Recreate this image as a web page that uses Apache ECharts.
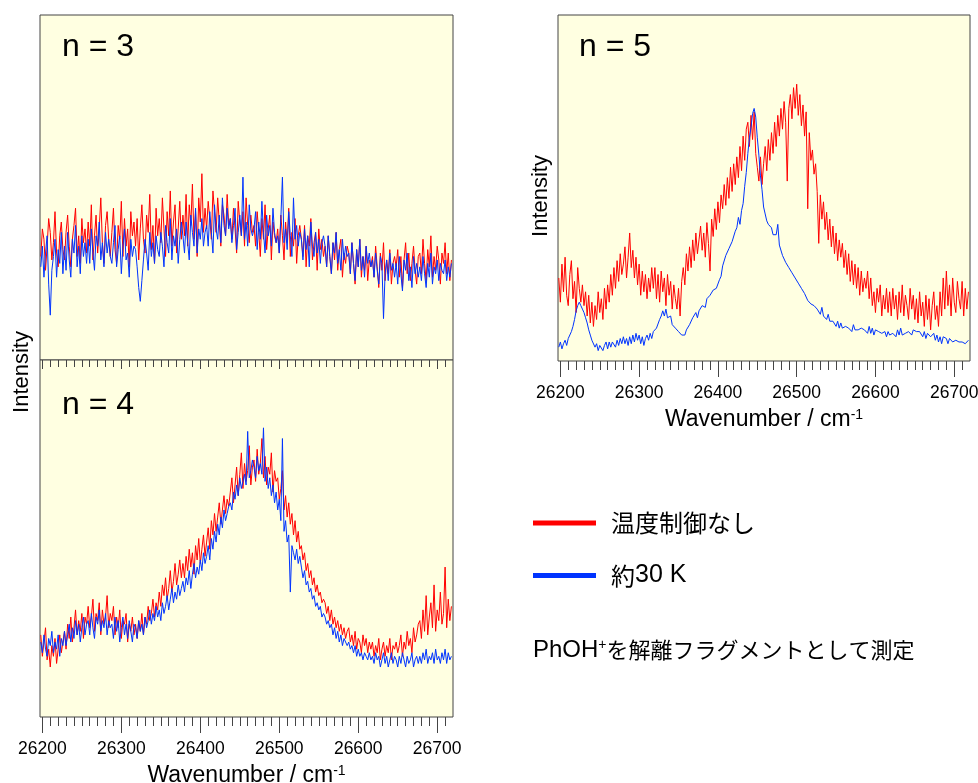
<!DOCTYPE html>
<html><head><meta charset="utf-8">
<script src="https://cdn.jsdelivr.net/npm/echarts@6/dist/echarts.min.js"></script>
<style>html,body{margin:0;padding:0;background:#fff}#c{width:978px;height:783px}</style>
</head><body><div id="c"></div>
<script>
// sampling grid of the spectra (cm-1)
const waveStart = 26198, waveStep = 2;
const xMin = 26197, xMax = 26720;
const majorTicks = [26200, 26300, 26400, 26500, 26600, 26700];
const minorTicks = [26200,26210,26220,26230,26240,26250,26260,26270,26280,26290,
  26300,26310,26320,26330,26340,26350,26360,26370,26380,26390,
  26400,26410,26420,26430,26440,26450,26460,26470,26480,26490,
  26500,26510,26520,26530,26540,26550,26560,26570,26580,26590,
  26600,26610,26620,26630,26640,26650,26660,26670,26680,26690,
  26700,26710];
const seriesNames = ['温度制御なし', '約30 K'];
const panelLabels = ['n = 3', 'n = 4', 'n = 5'];

const n3Red = [30,38,35,26,33,41,37,29,34,43,31,27,36,40,32,
29,37,42,33,27,35,39,44,30,36,28,41,34,38,31,
40,33,45,29,36,42,31,38,47,34,28,39,43,35,30,
37,44,32,28,39,35,46,30,41,33,38,27,43,36,40,
33,41,29,38,45,35,31,42,37,48,32,39,28,44,36,
41,34,47,38,30,43,36,49,33,40,45,31,38,46,35,
42,36,48,33,45,39,51,35,43,30,47,40,54,37,44,
38,46,41,35,49,43,37,47,40,33,45,42,36,48,39,
41,35,44,38,31,46,40,36,43,33,47,39,34,42,37,
39,33,43,37,30,41,35,45,32,38,42,29,40,36,34,
38,31,42,36,29,40,34,44,30,37,33,41,28,36,39,
35,30,39,27,36,33,41,29,34,37,26,38,32,35,30,
33,27,36,30,25,34,29,37,26,32,35,24,31,28,33,
31,25,34,28,22,32,27,35,24,30,26,33,23,29,27,
30,24,33,27,21,31,26,34,23,29,25,32,22,28,30,
27,32,24,30,21,29,34,25,31,23,28,33,26,22,30,
31,25,35,28,23,32,27,36,24,30,26,33,29,22,31,
28,34,25,31,23,29];
const n3Blue = [27,33,24,31,36,22,13,26,30,35,24,32,28,37,25,
33,26,37,29,24,35,31,39,27,33,25,36,30,34,28,
35,28,38,31,26,36,33,40,29,34,27,37,31,35,30,
28,34,39,27,32,36,25,33,38,29,31,24,35,30,33,
32,27,21,17,23,29,35,31,26,37,30,34,28,36,32,
30,37,33,27,39,34,31,41,29,36,33,38,28,35,40,
36,31,40,34,29,42,37,33,44,31,38,35,41,33,37,
39,33,43,37,31,45,38,35,42,34,47,39,36,44,38,
41,34,39,44,32,37,42,36,53,35,40,33,45,38,36,
38,43,32,40,35,46,37,31,42,36,39,33,44,37,34,
36,31,41,53,34,38,32,43,36,30,47,35,39,33,37,
35,29,38,32,36,27,40,33,30,37,31,35,28,34,36,
33,27,36,30,25,34,31,37,28,32,26,35,29,33,30,
31,25,34,28,23,32,27,35,26,30,24,33,28,31,27,
29,24,31,26,22,30,28,12,25,29,23,31,26,28,24,
28,22,30,25,20,29,26,31,23,27,21,30,25,28,24,
27,23,30,25,21,28,24,31,22,27,25,29,23,28,26,
25,29,23,27,24,28];
const n4Red = [23,17,21,25,16,19,14,20,17,22,15,19,23,18,21,
24,19,26,22,28,21,25,30,23,27,24,29,22,28,26,
31,25,28,33,24,29,27,32,23,30,26,28,34,25,29,
27,31,23,28,25,30,22,27,26,29,21,26,24,28,23,
26,22,27,24,29,23,28,26,31,27,29,33,28,32,30,
35,31,37,34,39,33,36,41,35,38,43,37,40,44,39,
43,39,45,41,47,42,46,40,48,44,50,43,47,51,45,
49,53,47,55,51,57,52,56,60,54,58,62,57,61,59,
63,67,60,65,70,62,68,74,64,71,66,69,76,65,70,
72,66,75,68,71,78,67,73,65,70,68,74,63,69,66,
67,61,64,69,58,62,56,60,54,57,51,55,49,52,47,
48,44,46,41,43,39,41,37,39,35,37,34,35,32,33,
32,29,31,27,30,26,28,25,27,24,26,23,25,22,24,
25,21,23,20,24,19,22,21,18,23,20,22,18,21,19,
21,17,20,18,22,16,19,21,17,20,18,22,16,20,19,
21,18,20,23,17,21,19,24,20,22,18,25,21,23,26,
27,22,30,24,34,23,28,32,25,37,24,30,27,35,26,
29,42,25,33,27,31];
const n4Blue = [21,18,23,19,17,22,20,24,18,21,19,23,17,22,20,
24,20,23,26,21,25,22,27,23,26,21,25,28,23,26,
27,23,29,25,22,28,26,30,24,27,25,29,23,27,25,
26,22,28,24,27,21,25,28,23,26,22,27,24,21,26,
25,22,27,24,26,23,28,25,27,30,26,29,27,31,28,
30,27,32,29,31,34,30,33,36,32,35,33,37,34,36,
38,35,39,37,41,36,40,43,39,42,40,44,41,46,43,
45,48,44,50,47,52,49,54,51,56,53,58,55,57,59,
60,58,63,61,65,62,67,64,66,68,65,80,67,69,72,
70,67,73,69,71,68,81,66,70,64,67,62,65,60,63,
58,61,55,78,52,55,49,51,35,48,46,44,47,43,45,
42,39,41,37,38,35,36,33,34,31,32,30,31,28,29,
28,26,27,25,26,23,25,22,24,21,23,20,22,21,20,
21,19,20,18,20,17,19,17,18,16,18,17,16,18,16,
17,15,18,16,17,14,16,18,15,17,14,16,18,15,17,
16,14,17,15,18,16,14,17,15,16,18,14,16,17,15,
17,15,18,16,19,15,17,16,18,15,19,16,17,15,18,
16,19,15,18,16,17];
const n5Red = [24,17,28,20,30,19,16,25,29,18,23,14,27,21,17,
22,16,20,13,19,11,17,10,16,12,20,14,18,12,21,
15,22,17,25,19,27,21,29,23,31,25,28,33,24,30,
37,27,32,24,30,22,28,19,26,20,25,18,24,20,27,
21,27,18,25,17,26,20,24,16,25,19,23,15,22,18,
15,21,13,23,27,22,31,26,33,27,35,29,37,31,35,
39,32,37,30,40,34,26,41,36,44,38,46,40,48,44,
51,45,53,47,56,49,57,51,59,53,62,55,65,58,67,
69,62,71,64,72,60,56,52,59,51,57,62,55,64,58,
66,60,69,62,71,65,73,67,75,69,52,73,77,70,79,
73,80,71,77,68,74,65,72,44,66,58,61,54,57,49,
34,48,41,46,38,43,35,41,33,39,31,37,29,35,30,
34,27,32,25,31,23,29,22,28,21,27,19,26,20,24,
21,26,18,24,16,20,14,21,17,22,13,19,15,21,14,
20,13,21,15,19,12,20,14,22,13,19,16,12,21,15,
19,12,18,11,20,13,17,10,19,12,18,9,16,20,12,
16,10,20,13,24,15,26,16,22,13,24,17,14,23,18,
15,23,13,21,15,20];
const n5Blue = [4,5.5,3.5,5,6,4.5,6.5,7,8.5,10,12,14.5,16,17,16,
15,14,12.5,11,9,7.5,6,5.5,4,5,3,4.5,4,3,4.5,
5.5,3.5,5.5,4,5.5,6,4,6,4.5,6.5,5,7,5,6.5,4.5,
7,5,7.5,5.5,8,6,7.5,5,7,4.5,6.5,7.5,6,8,6.5,
8.5,8,9.5,10,12,13,14.5,13,15,12.5,12.5,13,10.5,11,9.5,
10,8.5,8.5,7.5,8,7.5,9,9.5,10.5,11,12.5,12,14,12.5,14.5,
15,16,16.5,15.5,18,17.5,19,19,20.5,20.5,21,21.5,23.5,24.5,27.5,
28,30.5,30.5,32.5,32.5,34.5,34.5,37.5,38.5,41.5,39.5,43.5,45.5,50.5,54.5,
60,64.5,67.5,71.5,73,70.5,64.5,59.5,53.5,49.5,44.5,42.5,40.5,39.5,39.5,
38.5,36.5,36.5,36.5,39.5,33.5,33.5,30.5,30.5,28.5,28.5,27,27.5,25.5,25.5,
24,24.5,22.5,23,21,21.5,19.5,19.5,17.5,18,16.5,16.5,16,15.5,15,
15,13.5,15.5,13,13.5,12,13.5,11.5,12,11.5,11.5,10,11.5,9.5,11,
9.5,10,10,9.5,9.5,10,8.5,10.5,9,9,9,9.5,9.5,9.5,9,
9.5,8,10,8,9.5,7.5,9,8.5,8.5,8,8,8,8.5,7,8.5,
7.5,8,8,8.5,7,9,7.5,9.5,7.5,8,8,8.5,8.5,9,7.5,
9,8.5,8.5,9,8.5,8.5,7,8.5,6.5,8,7.5,7,6.5,8,6,
7.5,5.5,7,5,7,6.5,6.5,5,6.5,6,5.5,5.5,6,5.5,5.5,
5,5.5,5.5,5,4.5,6];

const wave = n3Red.map((_, i) => waveStart + i * waveStep);
const pairs = arr => arr.map((v, i) => [wave[i], v]);

const FONT = "'Liberation Sans', Arial, 'Noto Sans CJK JP', sans-serif";
const CJK = "'Noto Sans CJK JP', 'Liberation Sans', sans-serif";
const RED = '#ff0000', BLUE = '#0033ff';
const BG = '#ffffe1', BORDER = '#444';

const grids = [
  {left: 40, top: 15, width: 413, height: 345},
  {left: 40, top: 360, width: 413, height: 357},
  {left: 558, top: 15, width: 412, height: 346}
].map(g => Object.assign(g, {show: true, backgroundColor: BG, borderColor: BORDER, borderWidth: 1, outerBoundsMode: 'none', z: 0}));

const axisName = '{a|Wavenumber / cm}{s|-1}';
function xAxesFor(gi, labels, minorLen, majorLen) {
  const base = {type: 'value', gridIndex: gi, min: xMin, max: xMax, position: 'bottom',
    axisLine: {show: false}, splitLine: {show: false}, z: 5};
  const minor = Object.assign({}, base, {
    axisTick: {show: true, inside: false, customValues: minorTicks, length: minorLen, lineStyle: {color: BORDER, width: 1}},
    axisLabel: {show: false}
  });
  const major = Object.assign({}, base, {
    axisTick: {show: true, inside: false, customValues: majorTicks, length: majorLen, lineStyle: {color: BORDER, width: 1}},
    axisLabel: {show: labels, customValues: majorTicks, formatter: v => String(v), margin: 23, fontSize: 17.5, color: '#000', fontFamily: FONT},
    name: labels ? axisName : '',
    nameLocation: 'middle', nameGap: 47,
    nameTextStyle: {fontSize: 23, color: '#000', fontFamily: FONT,
      rich: {a: {fontSize: 23, fontFamily: FONT, color: '#000'},
             s: {fontSize: 14, fontFamily: FONT, color: '#000', verticalAlign: 'top'}}}
  });
  return [minor, major];
}
const xAxes = [].concat(xAxesFor(0, false, 7, 9), xAxesFor(1, true, 9, 16), xAxesFor(2, true, 9, 16));
const yAxes = [0, 1, 2].map(gi => ({type: 'value', gridIndex: gi, min: 0, max: 100, show: false}));

function mkSeries(name, color, data, gi) {
  return {type: 'line', name, data: pairs(data), xAxisIndex: gi * 2 + 1, yAxisIndex: gi,
    showSymbol: false, symbol: 'none', lineStyle: {color, width: 1}, itemStyle: {color},
    emphasis: {disabled: true}, animation: false, z: 3};
}
const series = [
  mkSeries(seriesNames[0], RED, n3Red, 0), mkSeries(seriesNames[1], BLUE, n3Blue, 0),
  mkSeries(seriesNames[0], RED, n4Red, 1), mkSeries(seriesNames[1], BLUE, n4Blue, 1),
  mkSeries(seriesNames[0], RED, n5Red, 2), mkSeries(seriesNames[1], BLUE, n5Blue, 2)
];

const txt = (text, x, y, size, extra) => Object.assign({type: 'text', x, y, silent: true,
  style: Object.assign({text, fontSize: size, fontFamily: FONT, fill: '#000', align: 'left', verticalAlign: 'middle'}, extra || {})});

const option = {
  backgroundColor: '#fff',
  animation: false,
  grid: grids,
  xAxis: xAxes,
  yAxis: yAxes,
  series,
  legend: {
    data: seriesNames, orient: 'vertical', left: 533, top: 511, padding: 0,
    itemWidth: 63, itemHeight: 5, itemGap: 28, icon: 'rect', selectedMode: false,
    formatter: name => name === seriesNames[1] ? '{c|約}{l|30 K}' : '{c|' + name + '}',
    textStyle: {fontSize: 24, color: '#000', fontFamily: CJK, padding: [0, 0, 0, 10],
      rich: {c: {fontSize: 24, fontFamily: CJK, color: '#000'},
             l: {fontSize: 25, fontFamily: FONT, color: '#000'}}}
  },
  graphic: [
    txt(panelLabels[0], 62, 47.5, 32),
    txt(panelLabels[1], 62, 405, 32),
    txt(panelLabels[2], 579, 47.5, 32),
    Object.assign(txt('Intensity', 22, 372, 22, {align: 'center'}), {rotation: Math.PI / 2}),
    Object.assign(txt('Intensity', 541, 196, 22, {align: 'center'}), {rotation: Math.PI / 2}),
    txt('{a|PhOH}{s|+}{b|を解離フラグメントとして測定}', 533, 650, 23, {
      rich: {a: {fontSize: 24, fontFamily: FONT, fill: '#000'},
             s: {fontSize: 14, fontFamily: FONT, fill: '#000', verticalAlign: 'top'},
             b: {fontSize: 22, fontFamily: CJK, fill: '#000'}}})
  ]
};
const chart = echarts.init(document.getElementById('c'), null, {renderer: 'canvas'});
chart.setOption(option);
</script></body></html>
